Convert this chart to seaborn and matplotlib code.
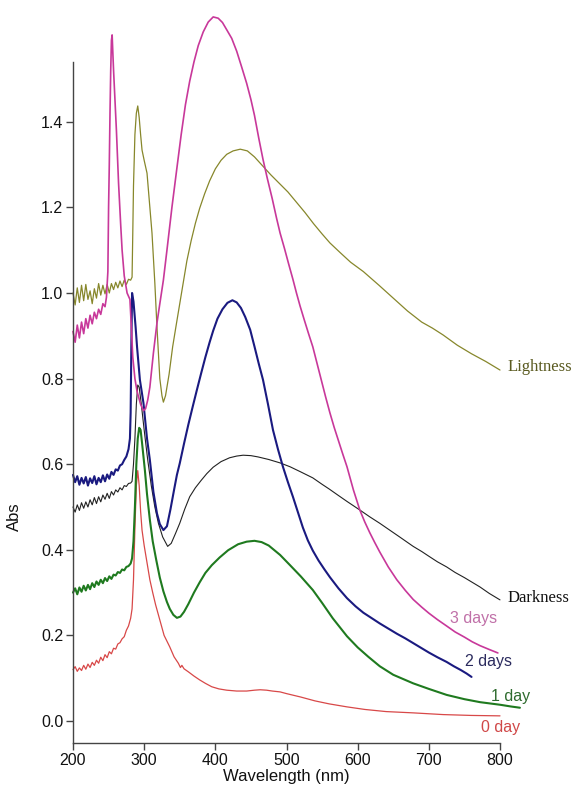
import matplotlib
matplotlib.use("Agg")
import matplotlib.pyplot as plt
import pandas as pd
import seaborn as sns

# ---------------- data (wavelength nm, absorbance) ----------------
day0 = [(200, .120), (203, .127), (206, .116), (209, .124), (212, .118), (215, .130), (218, .121),
        (221, .133), (224, .125), (227, .137), (230, .130), (233, .142), (236, .135), (239, .149),
        (242, .141), (245, .155), (248, .148), (251, .162), (254, .157), (257, .170), (260, .168),
        (263, .180), (266, .183), (269, .192), (272, .197), (275, .212), (278, .222),
        (281, .240), (283, .262), (285, .330), (287, .450), (289, .550), (291, .585), (293, .550),
        (295, .490), (297, .446), (300, .410), (304, .370), (308, .330), (312, .300), (316, .272),
        (322, .236), (328, .200), (336, .173), (342, .150), (348, .135), (351, .125), (353, .130),
        (356, .122), (362, .115), (370, .105), (378, .096), (386, .088), (395, .080), (405, .075),
        (416, .072), (430, .070), (444, .070), (455, .072), (463, .073), (472, .072), (480, .070),
        (491, .068), (500, .064), (520, .056), (540, .047), (560, .040), (585, .033), (610, .027),
        (640, .022), (678, .019), (720, .015), (760, .013), (800, .012)]

day1 = [(200, .300), (203, .310), (206, .296), (209, .312), (212, .302), (215, .316), (218, .305),
        (221, .318), (224, .308), (227, .322), (230, .313), (233, .326), (236, .318), (239, .330),
        (242, .322), (245, .334), (248, .327), (251, .338), (254, .332), (257, .342), (260, .340),
        (263, .348), (266, .346), (269, .354), (272, .352), (275, .360), (278, .362),
        (281, .368), (283, .380), (285, .420), (287, .500), (289, .600), (291, .660), (293, .685),
        (295, .680), (297, .650), (301, .586), (304, .530), (308, .470), (312, .420), (317, .376),
        (322, .335), (327, .303), (332, .278), (336, .262), (341, .248), (346, .241), (351, .244),
        (356, .255), (362, .273), (370, .300), (378, .324), (386, .346), (395, .364), (406, .382),
        (418, .399), (432, .413), (444, .419), (455, .421), (465, .418), (475, .410), (491, .388),
        (505, .364), (520, .338), (537, .306), (550, .276), (565, .240), (585, .198), (600, .172),
        (615, .150), (631, .128), (650, .108), (678, .088), (700, .075), (725, .061), (750, .051),
        (772, .044), (800, .038), (815, .034), (828, .031)]

day2 = [(200, .575), (203, .558), (206, .572), (209, .552), (212, .568), (215, .555), (218, .570),
        (221, .550), (224, .567), (227, .556), (230, .572), (233, .553), (236, .568), (239, .558),
        (242, .574), (245, .560), (248, .576), (251, .566), (254, .582), (257, .575), (260, .588),
        (263, .585), (266, .597), (269, .600), (272, .610), (275, .618), (278, .635),
        (280, .660), (281, .720), (282, .880), (283, 1.000), (285, .980), (288, .920), (290, .874),
        (294, .797), (299, .743), (304, .660), (308, .610), (313, .535), (318, .485), (322, .460),
        (327, .446), (332, .455), (337, .495), (342, .540), (346, .575), (350, .602), (356, .648),
        (362, .692), (368, .733), (374, .773), (380, .812), (386, .850), (392, .885), (397, .912),
        (403, .940), (410, .962), (417, .977), (424, .983), (430, .978), (436, .965), (442, .944),
        (449, .914), (455, .875), (461, .835), (467, .797), (474, .740), (481, .680), (488, .635),
        (495, .594), (502, .558), (509, .524), (516, .488), (523, .452), (530, .422), (537, .398),
        (545, .375), (553, .355), (561, .336), (573, .310), (585, .287), (597, .268), (608, .253),
        (620, .240), (631, .228), (643, .216), (655, .204), (667, .193), (678, .182), (690, .170),
        (700, .160), (712, .149), (725, .138), (735, .128), (745, .119), (753, .111), (760, .103)]

day3 = [(200, .910), (203, .885), (206, .925), (209, .895), (212, .932), (215, .905), (218, .940),
        (221, .918), (224, .948), (227, .928), (230, .955), (233, .940), (236, .962), (239, .950),
        (242, .975), (245, .968),
        (247, .990), (249, 1.050), (250, 1.200), (251, 1.300), (252, 1.420), (253, 1.520),
        (254, 1.590), (255, 1.603), (256, 1.560), (257, 1.520), (259, 1.450), (261, 1.380),
        (264, 1.257), (267, 1.160), (269, 1.100), (272, 1.040), (276, 1.000), (280, .985),
        (282, .920), (284, .850), (287, .800), (290, .770), (295, .740), (299, .725), (302, .730),
        (305, .750), (308, .780), (313, .860), (318, .930), (322, .975), (327, 1.030),
        (332, 1.100), (339, 1.200), (346, 1.292), (352, 1.370), (358, 1.440), (364, 1.495),
        (370, 1.540), (376, 1.578), (383, 1.610), (390, 1.633), (397, 1.645), (404, 1.642),
        (410, 1.632), (416, 1.615), (423, 1.595), (430, 1.565), (437, 1.528), (444, 1.490),
        (450, 1.452), (455, 1.415), (461, 1.362), (467, 1.312), (473, 1.268), (480, 1.220),
        (486, 1.175), (491, 1.140), (497, 1.105), (503, 1.068), (509, 1.032), (514, 1.000),
        (519, .970), (525, .937), (531, .905), (537, .874), (543, .835), (549, .796), (555, .757),
        (561, .720), (567, .686), (573, .655), (579, .624), (585, .594), (594, .540), (603, .493),
        (610, .465), (617, .440), (624, .417), (631, .395), (643, .360), (655, .330), (667, .305),
        (678, .284), (690, .266), (700, .252), (712, .237), (725, .222), (737, .208), (750, .196),
        (761, .185), (772, .176), (785, .167), (797, .159)]

darkness = [(200, .500), (203, .488), (206, .505), (209, .492), (212, .510), (215, .497), (218, .512),
            (221, .500), (224, .517), (227, .505), (230, .522), (233, .508), (236, .524), (239, .512),
            (242, .528), (245, .518), (248, .532), (251, .520), (254, .536), (257, .528), (260, .540),
            (263, .535), (266, .545), (269, .540), (272, .550), (275, .548), (278, .555),
            (281, .556), (283, .560), (285, .600), (287, .660), (289, .740), (291, .785), (293, .780),
            (296, .740), (300, .680), (305, .610), (310, .550), (315, .500), (320, .462), (326, .430),
            (333, .408), (338, .415), (344, .438), (350, .462), (357, .495), (364, .524), (372, .545),
            (380, .562), (388, .578), (397, .593), (408, .606), (420, .615), (430, .619), (439, .621),
            (450, .620), (460, .617), (475, .611), (491, .603), (505, .594), (520, .582), (537, .568),
            (550, .553), (560, .542), (572, .528), (585, .513), (603, .493), (617, .477), (631, .462),
            (645, .446), (659, .430), (678, .408), (690, .396), (700, .385), (712, .372), (725, .360),
            (737, .347), (750, .335), (761, .324), (772, .313), (785, .298), (800, .283)]

lightness = [(200, 1.000), (203, .972), (206, 1.012), (209, .978), (212, 1.018), (215, .982),
             (218, 1.020), (221, .985), (224, 1.005), (227, .975), (230, 1.010), (233, .988),
             (236, 1.022), (239, .995), (242, 1.018), (245, .998), (248, 1.020), (251, 1.000),
             (254, 1.022), (257, 1.008), (260, 1.025), (263, 1.012), (266, 1.028), (269, 1.015),
             (272, 1.030), (275, 1.020), (278, 1.032),
             (281, 1.030), (283, 1.037), (284, 1.140), (285, 1.250), (287, 1.370), (289, 1.420),
             (291, 1.437), (293, 1.410), (295, 1.370), (297, 1.334), (300, 1.310), (304, 1.280),
             (308, 1.200), (311, 1.140), (315, 1.023), (318, .920), (322, .800), (325, .760),
             (327, .745), (330, .760), (335, .810), (340, .874), (345, .925), (350, .975),
             (355, 1.025), (360, 1.075), (366, 1.122), (372, 1.163), (378, 1.198), (385, 1.232),
             (392, 1.262), (400, 1.290), (408, 1.310), (416, 1.324), (425, 1.332), (435, 1.336),
             (445, 1.332), (455, 1.318), (467, 1.296), (478, 1.276), (490, 1.256), (502, 1.236),
             (514, 1.212), (526, 1.188), (538, 1.162), (550, 1.138), (561, 1.117), (575, 1.095),
             (590, 1.072), (608, 1.050), (630, 1.018), (650, .988), (670, .958), (690, .932),
             (705, .918), (720, .902), (740, .878), (760, .858), (780, .840), (800, .820)]

series_names = ["0 day", "1 day", "Darkness", "2 days", "Lightness", "3 days"]
series_data = [day0, day1, darkness, day2, lightness, day3]
line_colors = ["#d84848", "#1f7a1f", "#222222", "#1a1a80", "#87872b", "#c8389a"]
line_widths = [0.9, 1.5, 0.8, 1.5, 0.9, 1.2]

label_text = ["0 day", "1 day", "Darkness", "2 days", "Lightness", "3 days"]
label_pos = [(773, -0.016), (787, 0.058), (810, 0.287), (751, 0.140), (810, 0.827), (730, 0.240)]
label_colors = ["#d04848", "#2e6b2e", "#111111", "#2b2b5e", "#5a5a20", "#c070a8"]
label_serif = [False, False, True, False, True, False]

x_ticks = [200, 300, 400, 500, 600, 700, 800]
y_ticks = [0.0, 0.2, 0.4, 0.6, 0.8, 1.0, 1.2, 1.4]

# ---------------- plotting ----------------
sns.set_style("ticks")
plt.rcParams['font.family'] = ['Liberation Sans', 'DejaVu Sans']

W, H = 573, 787
fig = plt.figure(figsize=(W / 100, H / 100), dpi=100)
ax = fig.add_axes([73 / W, 1 - 743 / H, 427 / W, (743 - 62) / H])

for name, data, col, lw in zip(series_names, series_data, line_colors, line_widths):
    df = pd.DataFrame(data, columns=["Wavelength", "Abs"])
    sns.lineplot(data=df, x="Wavelength", y="Abs", ax=ax, color=col, lw=lw,
                 estimator=None, clip_on=False)

ax.set_xlim(200, 800)
ax.set_ylim(-0.0514, 1.5397)
ax.set_xticks(x_ticks)
ax.set_xticklabels([str(t) for t in x_ticks])
ax.set_yticks(y_ticks)
ax.set_yticklabels([f"{t:.1f}" for t in y_ticks])
sns.despine(ax=ax)
for s in ["left", "bottom"]:
    ax.spines[s].set_color("#444444")
    ax.spines[s].set_linewidth(1.0)
ax.tick_params(axis="both", direction="out", length=5, width=1, color="#444444",
               labelsize=11.5, pad=2, labelcolor="#111111")

ax.set_xlabel("Wavelength (nm)", fontsize=12, color="#111111", labelpad=1)
ax.set_ylabel("Abs", fontsize=12, color="#111111")
ax.yaxis.set_label_coords(-0.119, 0.333)

for txt, (lx, ly), c, serif in zip(label_text, label_pos, label_colors, label_serif):
    fam = ['Liberation Serif', 'DejaVu Serif'] if serif else ['Liberation Sans', 'DejaVu Sans']
    ax.text(lx, ly, txt, color=c, fontsize=12 if serif else 11.5, family=fam,
            ha="left", va="center", clip_on=False)

fig.savefig("out.png", dpi=100)
